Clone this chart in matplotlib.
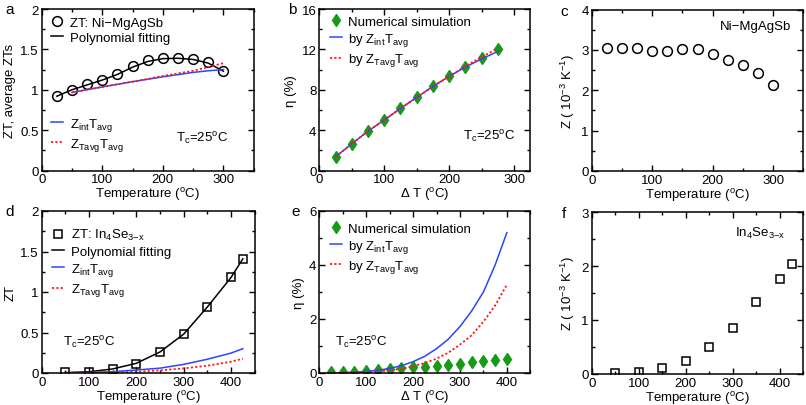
import numpy as np
import matplotlib
matplotlib.use("Agg")
import matplotlib.pyplot as plt
from matplotlib.ticker import MultipleLocator

plt.rcParams['font.family'] = ['Liberation Sans', 'DejaVu Sans']
plt.rcParams['mathtext.fontset'] = 'custom'
plt.rcParams['mathtext.rm'] = 'Liberation Sans'
plt.rcParams['mathtext.it'] = 'Liberation Sans:italic'
plt.rcParams['font.size'] = 9

# ---------------- data ----------------
# panel a: Ni-MgAgSb
a_T = [25, 50, 75, 100, 125, 150, 175, 200, 225, 250, 275, 300]
a_ZT = [0.926, 1.0, 1.07, 1.12, 1.19, 1.29, 1.37, 1.39, 1.39, 1.38, 1.34, 1.23]
a_fit = [0.92, 1.0, 1.06, 1.12, 1.19, 1.28, 1.35, 1.385, 1.39, 1.375, 1.33, 1.23]
a_line_T = [50, 100, 150, 200, 250, 275, 300]
a_int = [0.967, 1.035, 1.10, 1.16, 1.215, 1.235, 1.25]
a_tavg = [0.967, 1.035, 1.10, 1.17, 1.235, 1.28, 1.33]

# panel b: efficiency Ni-MgAgSb
b_dT = [25, 50, 75, 100, 125, 150, 175, 200, 225, 250, 275]
b_sim = [1.36, 2.64, 3.9, 5.0, 6.15, 7.24, 8.33, 9.32, 10.28, 11.17, 12.0]
b_int = [1.36, 2.64, 3.9, 5.0, 6.15, 7.24, 8.33, 9.32, 10.25, 11.05, 11.8]
b_tavg = [1.36, 2.64, 3.9, 5.0, 6.15, 7.24, 8.33, 9.33, 10.33, 11.25, 12.1]

# panel c: Z Ni-MgAgSb
c_T = [25, 50, 75, 100, 125, 150, 175, 200, 225, 250, 275, 300]
c_Z = [3.05, 3.04, 3.04, 2.96, 2.96, 3.01, 3.03, 2.90, 2.76, 2.62, 2.42, 2.13]

# panel d: In4Se3-x
d_T = [50, 100, 150, 200, 250, 300, 350, 400, 425]
d_ZT = [0.01, 0.012, 0.05, 0.115, 0.26, 0.485, 0.82, 1.18, 1.41]
d_fit = [0.005, 0.015, 0.05, 0.12, 0.26, 0.48, 0.815, 1.18, 1.41]
d_line_T = [50, 100, 150, 200, 250, 300, 350, 400, 425]
d_int = [0.0, 0.006, 0.016, 0.037, 0.06, 0.107, 0.17, 0.246, 0.30]
d_tavg = [0.0, 0.002, 0.005, 0.016, 0.033, 0.057, 0.09, 0.14, 0.177]

# panel e: efficiency In4Se3-x
e_dT = [25, 50, 75, 100, 125, 150, 175, 200, 225, 250, 275, 300, 325, 350, 375, 400]
e_sim = [0.02, 0.03, 0.05, 0.08, 0.10, 0.14, 0.17, 0.21, 0.23, 0.27, 0.31, 0.35, 0.40, 0.44, 0.49, 0.53]
e_int = [0.0, 0.01, 0.03, 0.06, 0.10, 0.17, 0.27, 0.42, 0.62, 0.90, 1.25, 1.72, 2.3, 3.0, 4.0, 5.2]
e_tavg = [0.0, 0.005, 0.015, 0.03, 0.06, 0.10, 0.16, 0.25, 0.37, 0.53, 0.75, 1.05, 1.4, 1.9, 2.5, 3.27]

# panel f: Z In4Se3-x
f_T = [50, 100, 150, 200, 250, 300, 350, 400, 425]
f_Z = [0.02, 0.04, 0.12, 0.235, 0.5, 0.85, 1.34, 1.76, 2.03]

BLUE = '#2a45ff'
RED = '#ff1a1a'
GREEN = '#179a17'

temp_label = r'Temperature ($\mathregular{^o}$C)'
dT_label = r'$\mathregular{\Delta}$ T ($\mathregular{^o}$C)'
eta_label = '\u03b7 (%)'
tc_text = r'$\mathregular{T_c}$=25$\mathregular{^o}$C'
zint = r'$\mathregular{Z_{int}T_{avg}}$'
ztavg = r'$\mathregular{Z_{Tavg}T_{avg}}$'
zlabel = r'Z ( 10$\mathregular{^{-3}}$ K$\mathregular{^{-1}}$)'

fig = plt.figure(figsize=(8.06, 4.06), dpi=100)
W, H = 806, 406

def make_ax(x0, y_top, w, h):
    return fig.add_axes([x0 / W, (H - y_top - h) / H, w / W, h / H])

ax_a = make_ax(41.7, 10, 212, 161.5)
ax_b = make_ax(319.3, 10, 211, 161.5)
ax_c = make_ax(591.7, 10.5, 211.6, 161.5)
ax_d = make_ax(41.7, 212, 213, 162)
ax_e = make_ax(319.3, 212, 211, 162)
ax_f = make_ax(591.7, 213, 211.6, 162)

def style(ax, xlim, xmaj, xmin, ylim, ymaj, ymin):
    ax.set_xlim(*xlim)
    ax.set_ylim(*ylim)
    ax.xaxis.set_major_locator(MultipleLocator(xmaj))
    ax.xaxis.set_minor_locator(MultipleLocator(xmin))
    ax.yaxis.set_major_locator(MultipleLocator(ymaj))
    ax.yaxis.set_minor_locator(MultipleLocator(ymin))
    ax.tick_params(which='both', direction='in', top=True, right=True, labelsize=9.5, width=1.0)
    ax.tick_params(which='major', length=4.5, pad=2)
    ax.tick_params(which='minor', length=2.5)
    for s in ax.spines.values():
        s.set_linewidth(1.1)
    ax.yaxis.set_major_formatter(matplotlib.ticker.FuncFormatter(lambda v, p: ('%g' % v)))

mk_circ = dict(marker='o', ms=7, mfc='none', mec='black', mew=1.1, ls='none')
mk_sq = dict(marker='s', ms=6, mfc='none', mec='black', mew=1.1, ls='none')
mk_dia = dict(marker='d', ms=6.5, mfc=GREEN, mec=GREEN, ls='none')

leg_kw = dict(frameon=False, fontsize=9.5, handlelength=0.9, handletextpad=0.5,
              borderaxespad=0, borderpad=0, labelspacing=0.25)

# ---- a ----
ax = ax_a
style(ax, (0, 350), 100, 50, (0, 2), 0.5, 0.25)
ax.plot(a_T, a_fit, color='black', lw=1.1)
h_pts, = ax.plot(a_T, a_ZT, **mk_circ)
h_blue, = ax.plot(a_line_T, a_int, color=BLUE, lw=1.1)
h_red, = ax.plot(a_line_T, a_tavg, color=RED, lw=1.3, ls=(0, (1.2, 1.2)))
h_fit = plt.Line2D([], [], color='black', lw=1.1)
l1 = ax.legend([h_pts, h_fit], ['ZT: Ni\u2212MgAgSb', 'Polynomial fitting'],
               loc='upper left', bbox_to_anchor=(0.045, 0.955), **leg_kw)
ax.add_artist(l1)
ax.legend([h_blue, h_red], [zint, ztavg], loc='upper left', bbox_to_anchor=(0.045, 0.34), **leg_kw)
ax.text(222, 0.4, tc_text, fontsize=9.5, ha='left', va='center')
ax.set_xlabel(temp_label, fontsize=9.5, labelpad=0)
ax.set_ylabel('ZT, average ZTs', fontsize=9.5, labelpad=3)

# ---- b ----
ax = ax_b
style(ax, (0, 325), 100, 50, (0, 16), 4, 2)
h_sim, = ax.plot(b_dT, b_sim, **mk_dia)
h_blue, = ax.plot(b_dT, b_int, color=BLUE, lw=1.1)
h_red, = ax.plot(b_dT, b_tavg, color=RED, lw=1.3, ls=(0, (1.2, 1.2)))
ax.legend([h_sim, h_blue, h_red], ['Numerical simulation', 'by ' + zint, 'by ' + ztavg],
          loc='upper left', bbox_to_anchor=(0.05, 0.96), **leg_kw)
ax.text(222, 3.4, tc_text, fontsize=9.5, ha='left', va='center')
ax.set_xlabel(dT_label, fontsize=9.5, labelpad=0)
ax.set_ylabel(eta_label, fontsize=9.5, labelpad=3)

# ---- c ----
ax = ax_c
style(ax, (0, 350), 100, 50, (0, 4), 1, 0.5)
ax.plot(c_T, c_Z, **mk_circ)
ax.text(330, 3.6, 'Ni\u2212MgAgSb', fontsize=9.5, ha='right', va='center')
ax.set_xlabel(temp_label, fontsize=9.5, labelpad=0)
ax.set_ylabel(zlabel, fontsize=9.5, labelpad=3)

# ---- d ----
ax = ax_d
style(ax, (0, 450), 100, 50, (0, 2), 0.5, 0.25)
ax.plot(d_T, d_fit, color='black', lw=1.1)
h_pts, = ax.plot(d_T, d_ZT, **mk_sq)
h_blue, = ax.plot(d_line_T, d_int, color=BLUE, lw=1.1)
h_red, = ax.plot(d_line_T, d_tavg, color=RED, lw=1.3, ls=(0, (1.2, 1.2)))
h_fit = plt.Line2D([], [], color='black', lw=1.1)
ax.legend([h_pts, h_fit, h_blue, h_red],
          [r'ZT: In$\mathregular{_4}$Se$\mathregular{_{3\mathrm{-}x}}$', 'Polynomial fitting', zint, ztavg],
          loc='upper left', bbox_to_anchor=(0.05, 0.9), **leg_kw)
ax.text(45, 0.38, tc_text, fontsize=9.5, ha='left', va='center')
ax.set_xlabel(temp_label, fontsize=9.5, labelpad=0)
ax.set_ylabel('ZT', fontsize=9.5, labelpad=3)

# ---- e ----
ax = ax_e
style(ax, (0, 450), 100, 50, (0, 6), 2, 1)
h_sim, = ax.plot(e_dT, e_sim, **mk_dia)
h_blue, = ax.plot(e_dT, e_int, color=BLUE, lw=1.1)
h_red, = ax.plot(e_dT, e_tavg, color=RED, lw=1.3, ls=(0, (1.2, 1.2)))
ax.legend([h_sim, h_blue, h_red], ['Numerical simulation', 'by ' + zint, 'by ' + ztavg],
          loc='upper left', bbox_to_anchor=(0.05, 0.93), **leg_kw)
ax.text(33, 1.15, tc_text, fontsize=9.5, ha='left', va='center')
ax.set_xlabel(dT_label, fontsize=9.5, labelpad=0)
ax.set_ylabel(eta_label, fontsize=9.5, labelpad=3)

# ---- f ----
ax = ax_f
style(ax, (0, 450), 100, 50, (0, 3), 1, 0.5)
ax.plot(f_T, f_Z, **mk_sq)
ax.text(305, 2.62, r'In$\mathregular{_4}$Se$\mathregular{_{3\mathrm{-}x}}$', fontsize=9.5, ha='left', va='center')
ax.set_xlabel(temp_label, fontsize=9.5, labelpad=0)
ax.set_ylabel(zlabel, fontsize=9.5, labelpad=3)

# panel letters
for txt, x, y in [('a', 5, 10), ('b', 288, 10), ('c', 560, 12),
                  ('d', 5, 212), ('e', 291, 212), ('f', 562, 214)]:
    fig.text(x / W, 1 - y / H, txt, fontsize=11, ha='left', va='center')

fig.savefig('out.png', dpi=100)
